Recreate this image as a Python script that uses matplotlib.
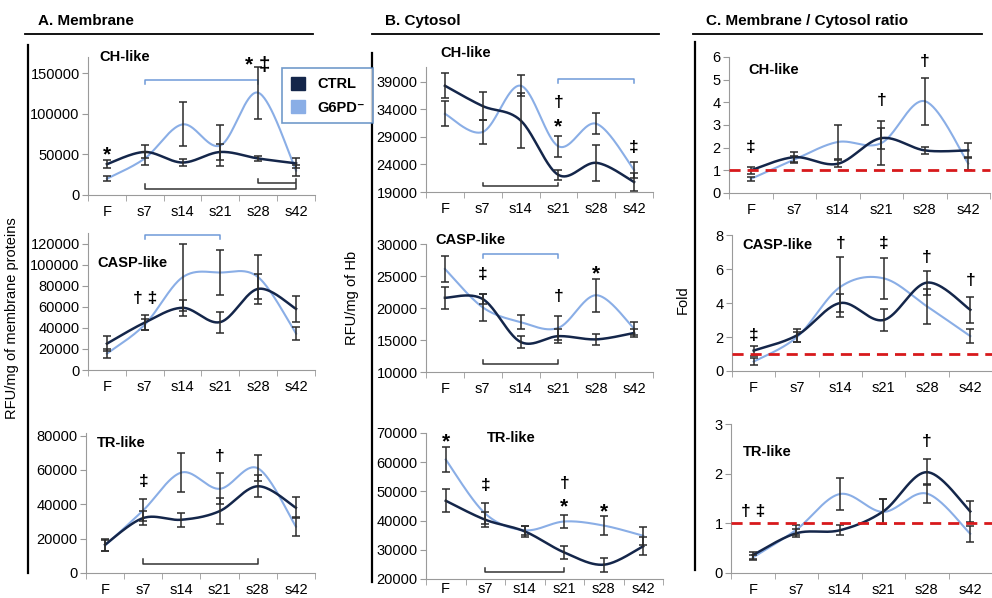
import numpy as np
import matplotlib.pyplot as plt
from matplotlib.lines import Line2D
from matplotlib.patches import Patch

plt.rcParams['font.family'] = ['Liberation Sans', 'DejaVu Sans']

categories = ['F', 's7', 's14', 's21', 's28', 's42']

# A. Membrane
mem_ch_ctrl = [38000, 53000, 40000, 53000, 45000, 39000]
mem_ch_ctrl_err = [5000, 8000, 4500, 10000, 3500, 6000]
mem_ch_g6pd = [20000, 45000, 87000, 61000, 126000, 30000]
mem_ch_g6pd_err = [3000, 8000, 27000, 25000, 32000, 7000]

mem_casp_ctrl = [25000, 45000, 59000, 45500, 77000, 58000]
mem_casp_ctrl_err = [7000, 7000, 7500, 10000, 14000, 12000]
mem_casp_g6pd = [15500, 43000, 88000, 92500, 88000, 34500]
mem_casp_g6pd_err = [4000, 5000, 32000, 21000, 21000, 6500]

mem_tr_ctrl = [16500, 32000, 31000, 36000, 50500, 38000]
mem_tr_ctrl_err = [3500, 4000, 4000, 7500, 6500, 6000]
mem_tr_g6pd = [16000, 36500, 58500, 49000, 61000, 27000]
mem_tr_g6pd_err = [3000, 6500, 11500, 9000, 7500, 5500]

# B. Cytosol
cyt_ch_ctrl = [38300, 34600, 32000, 22100, 24300, 20800]
cyt_ch_ctrl_err = [2300, 2500, 5000, 900, 3300, 1700]
cyt_ch_g6pd = [33200, 29900, 38300, 27300, 31400, 23000]
cyt_ch_g6pd_err = [2300, 2100, 1900, 1900, 1900, 1400]

cyt_casp_ctrl = [21600, 21400, 14700, 15600, 15100, 16100]
cyt_casp_ctrl_err = [1700, 800, 1000, 1100, 900, 600]
cyt_casp_g6pd = [26100, 20100, 17800, 16900, 22000, 16800]
cyt_casp_g6pd_err = [2100, 2100, 1100, 1900, 2600, 1000]

cyt_tr_ctrl = [46800, 40300, 36300, 29100, 24900, 31200]
cyt_tr_ctrl_err = [4000, 2500, 1800, 2100, 2400, 3100]
cyt_tr_g6pd = [60900, 42400, 36700, 39700, 38300, 34800]
cyt_tr_g6pd_err = [4400, 3500, 1500, 2100, 3300, 3000]

# C. Membrane / Cytosol ratio
rat_ch_ctrl = [1.0, 1.58, 1.29, 2.42, 1.88, 1.88]
rat_ch_ctrl_err = [0.15, 0.22, 0.15, 0.46, 0.17, 0.34]
rat_ch_g6pd = [0.62, 1.47, 2.25, 2.2, 4.05, 1.3]
rat_ch_g6pd_err = [0.08, 0.15, 0.75, 0.98, 1.03, 0.27]

rat_casp_ctrl = [1.2, 2.1, 4.0, 3.0, 5.2, 3.6]
rat_casp_ctrl_err = [0.3, 0.4, 0.55, 0.65, 0.7, 0.75]
rat_casp_g6pd = [0.55, 2.0, 4.95, 5.45, 3.8, 2.05]
rat_casp_g6pd_err = [0.2, 0.3, 1.75, 1.2, 1.05, 0.4]

rat_tr_ctrl = [0.36, 0.8, 0.86, 1.24, 2.03, 1.24]
rat_tr_ctrl_err = [0.07, 0.08, 0.1, 0.25, 0.26, 0.21]
rat_tr_g6pd = [0.31, 0.87, 1.59, 1.23, 1.6, 0.79]
rat_tr_g6pd_err = [0.05, 0.1, 0.32, 0.25, 0.2, 0.16]

CTRL_C = '#14264a'
G6PD_C = '#8aaee6'
W, H = 992, 598

fig = plt.figure(figsize=(W / 100, H / 100), dpi=100)


def smooth(y, n=40):
    # excel-like smoothed line (bezier through the points)
    x = np.arange(len(y)) + 0.5
    P = np.column_stack([x, y]).astype(float)
    P = np.vstack([P[0], P, P[-1]])
    t = np.linspace(0, 1, n)[:, None]
    out = []
    for i in range(1, len(P) - 2):
        p0, p1, p2, p3 = P[i - 1], P[i], P[i + 1], P[i + 2]
        c1 = p1 + (p2 - p0) / 6
        c2 = p2 - (p3 - p1) / 6
        out.append((1 - t) ** 3 * p1 + 3 * (1 - t) ** 2 * t * c1 + 3 * (1 - t) * t ** 2 * c2 + t ** 3 * p2)
    out = np.vstack(out)
    return out[:, 0], out[:, 1]


def panel(rect, ylim, yticks, ctrl, ctrl_err, g6, g6_err, label, label_xy, marks, brackets,
          ratio=False, xpad=7):
    l, t, r, b = rect
    ax = fig.add_axes([l / W, 1 - b / H, (r - l) / W, (b - t) / H])
    x = np.arange(6) + 0.5
    xs, ys = smooth(g6)
    ax.plot(xs, ys, color=G6PD_C, lw=1.5, zorder=2)
    xs, ys = smooth(ctrl)
    ax.plot(xs, ys, color=CTRL_C, lw=1.8, zorder=2)
    for v, e in [(g6, g6_err), (ctrl, ctrl_err)]:
        ax.errorbar(x, v, yerr=e, fmt='none', ecolor='#2b2b2b', elinewidth=1.1,
                    capsize=3, capthick=1.1, zorder=3)
    if ratio:
        ax.axhline(1, color='#d7191c', lw=2, ls=(0, (4, 2.5)), zorder=4, clip_on=False)
    ax.set_xlim(0, 6)
    ax.set_ylim(*ylim)
    ax.set_yticks(yticks)
    ax.set_xticks(x)
    ax.set_xticklabels(categories)
    ax.set_xticks(np.arange(7), minor=True)
    ax.tick_params(axis='x', which='major', length=0, pad=xpad, labelsize=10.5)
    ax.tick_params(axis='x', which='minor', length=4, color='#9a9a9a')
    ax.tick_params(axis='y', length=4, color='#9a9a9a', pad=2, labelsize=10.5)
    for s in ['top', 'right']:
        ax.spines[s].set_visible(False)
    for s in ['left', 'bottom']:
        ax.spines[s].set_color('#9a9a9a')
    ax.patch.set_alpha(0)
    ax.text(label_xy[0], label_xy[1], label, fontsize=10.5, fontweight='bold',
            va='center', ha='left', clip_on=False)
    for i, yv, s in marks:
        size = 15 if s.startswith('*') else 12.5
        ax.text(i + 0.5, yv, s, fontsize=size, fontweight='bold', ha='center', va='center', clip_on=False)
    h = 0.03 * (ylim[1] - ylim[0])
    for i0, i1, yv, col, up in brackets:
        d = h if up else -h
        ax.plot([i0 + 0.5, i0 + 0.5, i1 + 0.5, i1 + 0.5], [yv + d, yv, yv, yv + d],
                color=col, lw=1.1, clip_on=False, zorder=1)
    return ax


DK = '#333333'
BL = '#6f9ad8'

panel((88, 57, 315, 195), (0, 170000), range(0, 150001, 50000),
      mem_ch_ctrl, mem_ch_ctrl_err, mem_ch_g6pd, mem_ch_g6pd_err,
      'CH-like', (0.3, 170500),
      [(0, 50000, '*'), (4, 160000, '* \u2021')],
      [(1, 4, 142000, BL, False), (1, 5, 8000, DK, True), (4, 5, 15000, DK, True)])
panel((88, 233, 315, 370), (0, 130000), range(0, 120001, 20000),
      mem_casp_ctrl, mem_casp_ctrl_err, mem_casp_g6pd, mem_casp_g6pd_err,
      'CASP-like', (0.26, 101500),
      [(1, 68000, '\u2020 \u2021')],
      [(1, 3, 128000, BL, False)])
panel((86, 433, 315, 573), (0, 81500), range(0, 80001, 20000),
      mem_tr_ctrl, mem_tr_ctrl_err, mem_tr_g6pd, mem_tr_g6pd_err,
      'TR-like', (0.29, 75900),
      [(1, 53000, '\u2021'), (3, 68000, '\u2020')],
      [(1, 4, 5500, DK, True)])

panel((426, 67, 653, 192), (19000, 41700), range(19000, 39001, 5000),
      cyt_ch_ctrl, cyt_ch_ctrl_err, cyt_ch_g6pd, cyt_ch_g6pd_err,
      'CH-like', (0.37, 44300),
      [(3, 35200, '\u2020'), (3, 30800, '*'), (5, 27000, '\u2021')],
      [(3, 5, 39500, BL, False), (1, 3, 20000, DK, True)])
panel((426, 244, 653, 372), (10000, 30000), range(10000, 30001, 5000),
      cyt_casp_ctrl, cyt_casp_ctrl_err, cyt_casp_g6pd, cyt_casp_g6pd_err,
      'CASP-like', (0.24, 30600),
      [(1, 25200, '\u2021'), (3, 21800, '\u2020'), (4, 25400, '*')],
      [(1, 3, 28400, BL, False), (1, 3, 11250, DK, True)])
panel((426, 433, 663, 579), (20000, 70000), range(20000, 70001, 10000),
      cyt_tr_ctrl, cyt_tr_ctrl_err, cyt_tr_g6pd, cyt_tr_g6pd_err,
      'TR-like', (1.54, 68300),
      [(0, 67000, '*'), (1, 52000, '\u2021'), (3, 52800, '\u2020'), (3, 44800, '*'), (4, 43000, '*')],
      [(1, 3, 22400, DK, True)], xpad=2.5)

panel((729, 57, 990, 193), (0, 6), range(0, 7),
      rat_ch_ctrl, rat_ch_ctrl_err, rat_ch_g6pd, rat_ch_g6pd_err,
      'CH-like', (0.44, 5.43),
      [(0, 2.0, '\u2021'), (3, 4.1, '\u2020'), (4, 5.8, '\u2020')],
      [], ratio=True)
panel((732, 235, 992, 371), (0, 8), range(0, 9, 2),
      rat_casp_ctrl, rat_casp_ctrl_err, rat_casp_g6pd, rat_casp_g6pd_err,
      'CASP-like', (0.25, 7.41),
      [(0, 2.1, '\u2021'), (2, 7.5, '\u2020'), (3, 7.5, '\u2021'), (4, 6.7, '\u2020'), (5, 5.35, '\u2020')],
      [], ratio=True)
panel((731, 424, 992, 573), (0, 3), range(0, 4),
      rat_tr_ctrl, rat_tr_ctrl_err, rat_tr_g6pd, rat_tr_g6pd_err,
      'TR-like', (0.28, 2.44),
      [(0, 1.23, '\u2020 \u2021'), (4, 2.65, '\u2020')],
      [], ratio=True)

# column headers and frame lines
for x0, x1, txt in [(25, 313, 'A. Membrane'), (372, 659, 'B. Cytosol'),
                    (693, 982, 'C. Membrane / Cytosol ratio')]:
    fig.text((x0 + 13) / W, 1 - 21 / H, txt, fontsize=11, fontweight='bold', va='center')
    fig.add_artist(Line2D([x0 / W, x1 / W], [1 - 34 / H] * 2, color='k', lw=1.3))
for xv, y0, y1 in [(28, 45, 573), (372, 53, 582), (695, 42, 570)]:
    fig.add_artist(Line2D([xv / W] * 2, [1 - y0 / H, 1 - y1 / H], color='k', lw=1.6))

fig.text(12 / W, 1 - 318 / H, 'RFU/mg of membrane proteins', rotation=90, fontsize=10.5,
         ha='center', va='center')
fig.text(352 / W, 1 - 298 / H, 'RFU/mg of Hb', rotation=90, fontsize=10.5, ha='center', va='center')
fig.text(683 / W, 1 - 300 / H, 'Fold', rotation=90, fontsize=10.5, ha='center', va='center')

leg = fig.legend(handles=[Patch(color=CTRL_C, label='CTRL'), Patch(color=G6PD_C, label='G6PD\u207b')],
                 loc='upper left', bbox_to_anchor=(282 / W, 1 - 68 / H), borderaxespad=0,
                 fancybox=False, edgecolor='#4f81bd', handlelength=1.0, handleheight=1.0,
                 handletextpad=0.8, borderpad=0.6, labelspacing=0.6,
                 prop={'weight': 'bold', 'size': 10.5})
leg.get_frame().set_linewidth(1.2)

fig.savefig('out.png', dpi=100)
